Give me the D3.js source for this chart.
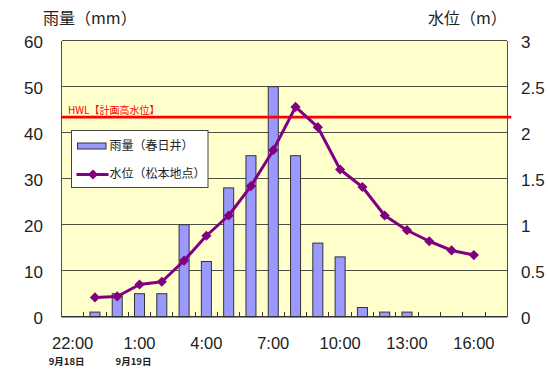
<!DOCTYPE html>
<html><head><meta charset="utf-8">
<script src="https://cdn.jsdelivr.net/npm/d3@7"></script>
<style>
html,body{margin:0;padding:0;background:#fff;}
svg{display:block;}
</style>
</head><body>
<svg id="chart" width="548" height="369"></svg>
<script>
// ---- data ----
const categories = ["22:00","23:00","0:00","1:00","2:00","3:00","4:00","5:00","6:00","7:00","8:00","9:00","10:00","11:00","12:00","13:00","14:00","15:00","16:00","17:00"];
const rainfall = [null,1,5,5,5,20,12,28,35,50,35,16,13,2,1,1,null,null,null,null];
const waterLevel = [null,0.21,0.22,0.35,0.38,0.61,0.88,1.10,1.42,1.81,2.28,2.06,1.60,1.41,1.10,0.94,0.82,0.72,0.67,null];
const xTickLabels = ["22:00","1:00","4:00","7:00","10:00","13:00","16:00"];
const dateLabels = [["22:00","9月18日"],["1:00","9月19日"]];
const rainTicks = [0,10,20,30,40,50,60];
const levelTicks = [0,0.5,1,1.5,2,2.5,3];
const hwlValue = 2.17;
const hwlLabel = "HWL【計画高水位】";
const rainTitle = "雨量（mm）";
const levelTitle = "水位（m）";
const legendRain = "雨量（春日井）";
const legendLevel = "水位（松本地点）";

// ---- layout ----
const L = 61.5, R = 507.3, T = 40.7, B = 316.7;
const numFont = "'Liberation Sans', Arial, sans-serif";
const jpFont = "'Noto Sans CJK JP', sans-serif";
const svg = d3.select("#chart");

const x = d3.scaleBand().domain(categories).range([L, R]).padding(0);
const yRain = d3.scaleLinear().domain([0, 60]).range([B, T]);
const yLevel = d3.scaleLinear().domain([0, 3]).range([B, T]);

// plot background
svg.append("rect").attr("x", L).attr("y", T).attr("width", R - L).attr("height", B - T)
  .attr("fill", "#FFFFCC");

// gridlines
svg.append("g").selectAll("line").data(rainTicks.filter(d => d > 0)).join("line")
  .attr("x1", L).attr("x2", R).attr("y1", d => yRain(d)).attr("y2", d => yRain(d))
  .attr("stroke", "#505040").attr("stroke-width", 1).attr("shape-rendering", "crispEdges");

// side borders
svg.append("line").attr("x1", L).attr("x2", L).attr("y1", T).attr("y2", B)
  .attr("stroke", "#505040").attr("shape-rendering", "crispEdges");
svg.append("line").attr("x1", R).attr("x2", R).attr("y1", T).attr("y2", B)
  .attr("stroke", "#505040").attr("shape-rendering", "crispEdges");

// bars
const bw = x.bandwidth() * 0.45;
svg.append("g").selectAll("rect").data(categories.map((c, i) => ({c, v: rainfall[i]})).filter(d => d.v != null))
  .join("rect")
  .attr("x", d => x(d.c) + (x.bandwidth() - bw) / 2)
  .attr("y", d => yRain(d.v))
  .attr("width", bw)
  .attr("height", d => B - yRain(d.v))
  .attr("fill", "#9999FF").attr("stroke", "#333").attr("stroke-width", 1);

// bottom axis line + inner ticks at category boundaries
svg.append("line").attr("x1", L).attr("x2", R).attr("y1", B).attr("y2", B)
  .attr("stroke", "#333").attr("stroke-width", 1.5);
svg.append("g").selectAll("line").data(categories.slice(1)).join("line")
  .attr("x1", d => x(d)).attr("x2", d => x(d)).attr("y1", B).attr("y2", B - 5)
  .attr("stroke", "#333").attr("shape-rendering", "crispEdges");

// HWL line
svg.append("line").attr("x1", L).attr("x2", R + 4).attr("y1", yLevel(hwlValue)).attr("y2", yLevel(hwlValue))
  .attr("stroke", "#FF0000").attr("stroke-width", 2.7);
svg.append("text").attr("x", 68).attr("y", yLevel(hwlValue) - 3.5)
  .attr("font-family", jpFont).attr("font-size", 10).attr("fill", "#FF0000").text(hwlLabel);

// water level line
const pts = categories.map((c, i) => ({c, v: waterLevel[i]})).filter(d => d.v != null);
const line = d3.line().x(d => x(d.c) + x.bandwidth() / 2).y(d => yLevel(d.v));
svg.append("path").datum(pts).attr("d", line).attr("fill", "none")
  .attr("stroke", "#800080").attr("stroke-width", 3).attr("stroke-linejoin", "round");
const diamond = d3.symbol().type(d3.symbolSquare).size(52);
svg.append("g").selectAll("path").data(pts).join("path")
  .attr("d", diamond)
  .attr("transform", d => `translate(${x(d.c) + x.bandwidth() / 2},${yLevel(d.v)}) rotate(45)`)
  .attr("fill", "#800080");

// left axis labels
svg.append("g").selectAll("text").data(rainTicks).join("text")
  .attr("x", 43).attr("y", d => yRain(d) + 3).attr("text-anchor", "end")
  .attr("dominant-baseline", "middle")
  .attr("font-family", numFont).attr("font-size", 17).attr("fill", "#222")
  .text(d => d);
// right axis labels
svg.append("g").selectAll("text").data(levelTicks).join("text")
  .attr("x", 521).attr("y", d => yLevel(d) + 3).attr("text-anchor", "start")
  .attr("dominant-baseline", "middle")
  .attr("font-family", numFont).attr("font-size", 17).attr("fill", "#222")
  .text(d => d);

// x labels
svg.append("g").selectAll("text").data(xTickLabels).join("text")
  .attr("x", d => x(d) + x.bandwidth() / 2).attr("y", 344.5).attr("text-anchor", "middle")
  .attr("dominant-baseline", "middle")
  .attr("font-family", numFont).attr("font-size", 16.5).attr("fill", "#222")
  .text(d => d);
svg.append("g").selectAll("text").data(dateLabels).join("text")
  .attr("x", d => x(d[0]) + x.bandwidth() / 2 - 6).attr("y", 362.5).attr("text-anchor", "middle")
  .attr("dominant-baseline", "middle")
  .attr("font-family", jpFont).attr("font-size", 9.5).attr("font-weight", "bold").attr("fill", "#222")
  .text(d => d[1]);

// axis titles
svg.append("text").attr("x", 43).attr("y", 20).attr("dominant-baseline", "middle")
  .attr("font-family", jpFont).attr("font-size", 16).attr("fill", "#222").text(rainTitle);
svg.append("text").attr("x", 428).attr("y", 20).attr("dominant-baseline", "middle")
  .attr("font-family", jpFont).attr("font-size", 16).attr("fill", "#222").text(levelTitle);

// legend
const lg = svg.append("g");
lg.append("rect").attr("x", 71.5).attr("y", 130.5).attr("width", 136.5).attr("height", 57)
  .attr("fill", "#fff").attr("stroke", "#444").attr("stroke-width", 1);
lg.append("rect").attr("x", 77.5).attr("y", 143).attr("width", 28.5).attr("height", 6)
  .attr("fill", "#9999FF").attr("stroke", "#333");
lg.append("text").attr("x", 109.5).attr("y", 147).attr("dominant-baseline", "middle")
  .attr("font-family", jpFont).attr("font-size", 12).attr("fill", "#222").text(legendRain);
lg.append("line").attr("x1", 76.5).attr("x2", 108.5).attr("y1", 174.5).attr("y2", 174.5)
  .attr("stroke", "#800080").attr("stroke-width", 3);
lg.append("path").attr("d", diamond)
  .attr("transform", "translate(93,174.5) rotate(45)").attr("fill", "#800080");
lg.append("text").attr("x", 109.5).attr("y", 175).attr("dominant-baseline", "middle")
  .attr("font-family", jpFont).attr("font-size", 12).attr("fill", "#222").text(legendLevel);
</script>
</body></html>
